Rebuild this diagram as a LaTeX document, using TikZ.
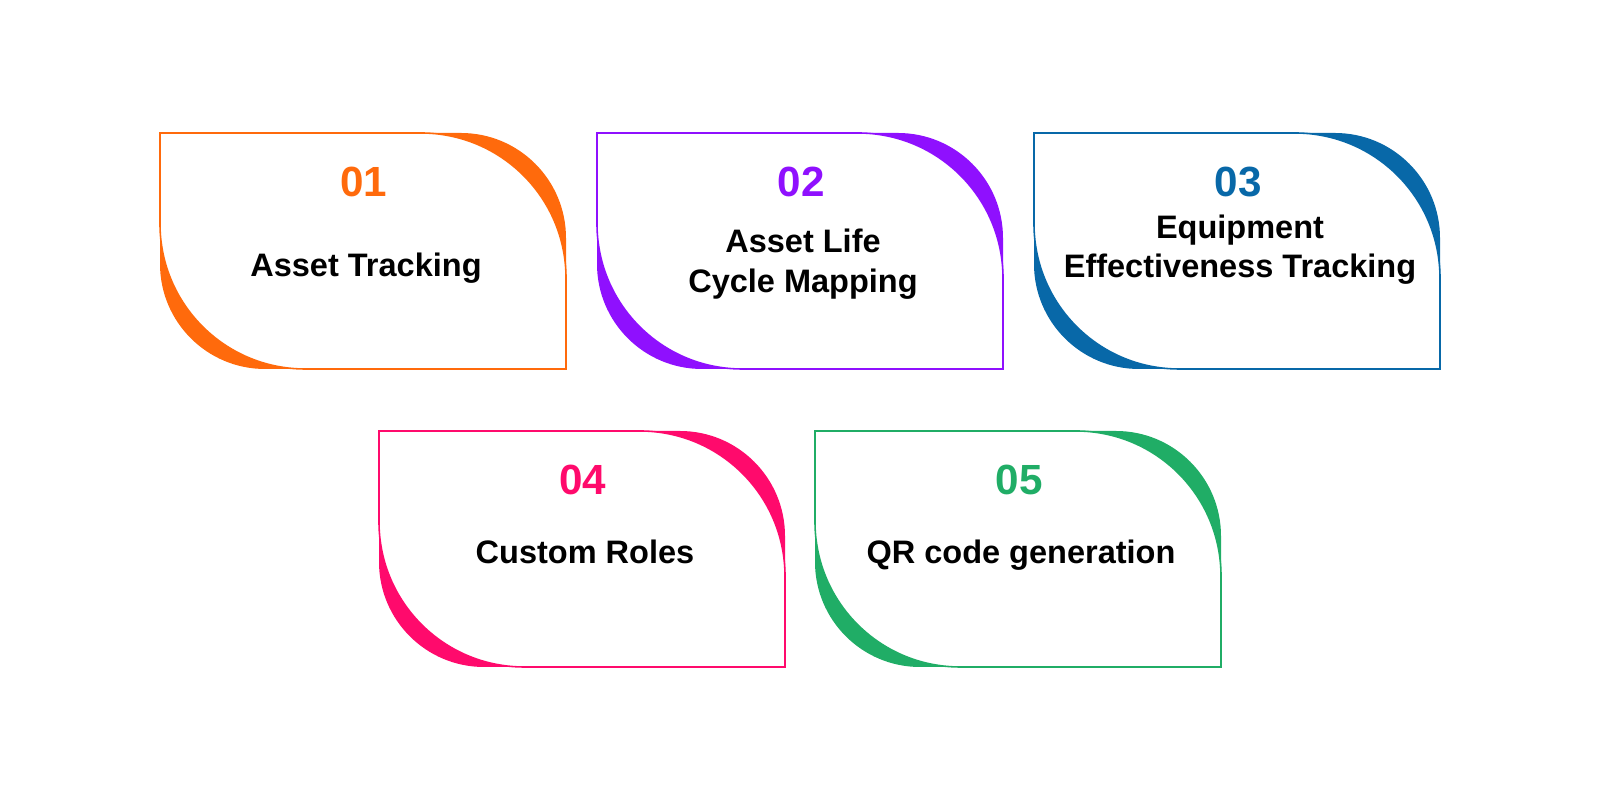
\documentclass[tikz,border=0pt]{standalone}
\usepackage{fontspec}
\setmainfont{Liberation Sans}
\usetikzlibrary{positioning}

\definecolor{cardorange}{HTML}{FF6A0C}
\definecolor{cardpurple}{HTML}{8F10FE}
\definecolor{cardblue}{HTML}{0868A8}
\definecolor{cardpink}{HTML}{FF0A6C}
\definecolor{cardgreen}{HTML}{20AD66}

% card: #1 name, #2 lower-left corner, #3 colour, #4 number, #5 label, #6 label height
\newcommand{\featurecard}[6]{%
  \begin{scope}[shift={#2}]
    % coloured body, smaller corner radius
    \fill[#3] (0,4.72) -- (6.02,4.72) arc[start angle=90, end angle=0, radius=2.1]
      -- (8.12,0) -- (2.1,0) arc[start angle=270, end angle=180, radius=2.1] -- cycle;
    % white face on top, larger radius, leaves the crescents
    \filldraw[fill=white, draw=#3, line width=0.9pt] (0,4.72) -- (5.22,4.72)
      arc[start angle=90, end angle=0, radius=2.9]
      -- (8.12,0) -- (2.9,0) arc[start angle=270, end angle=180, radius=2.9] -- cycle;
    \node[number, text=#3] (#1-num) at (4.08,3.74) {#4};
    \node[label] (#1-txt) at (4.12,#6) {#5};
  \end{scope}
}

\begin{document}
\begin{tikzpicture}[
  number/.style={font=\fontsize{24}{28}\selectfont\bfseries, inner sep=0pt},
  label/.style={font=\fontsize{18.5}{22.5}\selectfont\bfseries, align=center, inner sep=0pt}
]
\useasboundingbox (0,0) rectangle (32,16);

% top row
\featurecard{asset}{(3.2,8.62)}{cardorange}{01}{Asset Tracking}{2.02}
\featurecard{life}{(11.94,8.62)}{cardpurple}{02}{Asset Life\\Cycle Mapping}{2.10}
\featurecard{equip}{(20.68,8.62)}{cardblue}{03}{Equipment\\Effectiveness Tracking}{2.39}

% bottom row
\featurecard{roles}{(7.58,2.66)}{cardpink}{04}{Custom Roles}{2.30}
\featurecard{qr}{(16.3,2.66)}{cardgreen}{05}{QR code generation}{2.24}

\end{tikzpicture}
\end{document}
